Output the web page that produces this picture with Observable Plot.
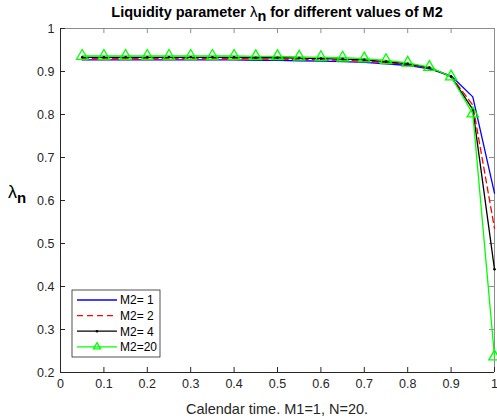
<!DOCTYPE html>
<html>
<head>
<meta charset="utf-8">
<script src="https://cdn.jsdelivr.net/npm/d3@7"></script>
<script src="https://cdn.jsdelivr.net/npm/@observablehq/plot@0.6"></script>
<style>
  html, body { margin: 0; padding: 0; background: #fff; overflow: hidden; }
  #chart { width: 497px; height: 418px; }
</style>
</head>
<body>
<div id="chart"></div>
<script>
// Calendar time grid (N = 20 steps)
const time = [0.05, 0.10, 0.15, 0.20, 0.25, 0.30, 0.35, 0.40, 0.45, 0.50,
              0.55, 0.60, 0.65, 0.70, 0.75, 0.80, 0.85, 0.90, 0.95, 1.00];

// Liquidity parameter lambda_n for each M2
const lambdaM2_1  = [0.927, 0.927, 0.927, 0.927, 0.927, 0.927, 0.927, 0.927, 0.926, 0.926,
                     0.925, 0.924, 0.923, 0.921, 0.918, 0.914, 0.906, 0.890, 0.841, 0.617];
const lambdaM2_2  = [0.930, 0.930, 0.930, 0.930, 0.930, 0.930, 0.930, 0.930, 0.929, 0.929,
                     0.928, 0.927, 0.926, 0.924, 0.921, 0.916, 0.908, 0.889, 0.822, 0.535];
const lambdaM2_4  = [0.933, 0.933, 0.933, 0.933, 0.933, 0.933, 0.933, 0.933, 0.932, 0.932,
                     0.931, 0.930, 0.929, 0.927, 0.923, 0.918, 0.909, 0.888, 0.812, 0.440];
const lambdaM2_20 = [0.936, 0.936, 0.936, 0.936, 0.936, 0.936, 0.936, 0.936, 0.935, 0.935,
                     0.934, 0.933, 0.932, 0.930, 0.926, 0.920, 0.910, 0.888, 0.802, 0.237];

const seriesNames = ["M2= 1", "M2= 2", "M2= 4", "M2=20"];

const xTicks = [0, 0.1, 0.2, 0.3, 0.4, 0.5, 0.6, 0.7, 0.8, 0.9, 1];
const xTickLabels = ["0", "0.1", "0.2", "0.3", "0.4", "0.5", "0.6", "0.7", "0.8", "0.9", "1"];
const yTicks = [0.2, 0.3, 0.4, 0.5, 0.6, 0.7, 0.8, 0.9, 1];
const yTickLabels = ["0.2", "0.3", "0.4", "0.5", "0.6", "0.7", "0.8", "0.9", "1"];

const titleText = ["Liquidity parameter ", "\u03bb", "n", " for different values of M2"];
const xLabel = "Calendar time. M1=1, N=20.";

// Line styles per series
const styles = [
  {name: seriesNames[0], values: lambdaM2_1,  color: "#0000ff", dash: null},
  {name: seriesNames[1], values: lambdaM2_2,  color: "#ff0000", dash: "6,4"},
  {name: seriesNames[2], values: lambdaM2_4,  color: "#000000", dash: null},
  {name: seriesNames[3], values: lambdaM2_20, color: "#00ff00", dash: null}
];
const rows = s => time.map((t, i) => ({t, v: s.values[i]}));

const W = 497, H = 418;
const mL = 60, mR = 3, mT = 28, mB = 46;
const plotW = W - mL - mR, plotH = H - mT - mB;
const tickLen = 5;
const axisDark = "#262626", axisLight = "#8c8c8c";

const marks = [];
// Box: top/right lighter, left/bottom darker
marks.push(Plot.ruleY([1], {stroke: axisLight, strokeWidth: 1}));
marks.push(Plot.ruleX([1], {stroke: axisLight, strokeWidth: 1}));
// Inward tick marks on all four sides
marks.push(Plot.tickX(xTicks, {x: d => d, stroke: axisDark, insetTop: plotH - tickLen}));
marks.push(Plot.tickX(xTicks, {x: d => d, stroke: axisLight, insetBottom: plotH - tickLen}));
marks.push(Plot.tickY(yTicks, {y: d => d, stroke: axisDark, insetRight: plotW - tickLen}));
marks.push(Plot.tickY(yTicks, {y: d => d, stroke: axisLight, insetLeft: plotW - tickLen}));
// Data lines
for (const s of styles) {
  marks.push(Plot.line(rows(s), {x: "t", y: "v", stroke: s.color, strokeWidth: 1.3,
    strokeDasharray: s.dash, strokeLinejoin: "miter"}));
}
// Markers: small dots for M2=4, open triangles for M2=20
marks.push(Plot.dot(rows(styles[2]), {x: "t", y: "v", r: 1.3, fill: "#000000"}));
marks.push(Plot.dot(rows(styles[3]), {x: "t", y: "v", symbol: "triangle", r: 4.2,
  stroke: "#00ff00", strokeWidth: 1.3, fill: "none"}));
marks.push(Plot.ruleY([0.2], {stroke: axisDark, strokeWidth: 1}));
marks.push(Plot.ruleX([0], {stroke: axisDark, strokeWidth: 1}));
marks.push(Plot.axisX(xTicks, {tickSize: 0, tickPadding: 7, tickFormat: (d, i) => xTickLabels[i], label: null, fill: axisDark}));
marks.push(Plot.axisY(yTicks, {tickSize: 0, tickPadding: 6, tickFormat: (d, i) => yTickLabels[i], label: null, fill: axisDark}));

const chart = Plot.plot({
  width: W, height: H,
  marginLeft: mL, marginRight: mR, marginTop: mT, marginBottom: mB,
  x: {domain: [0, 1]},
  y: {domain: [0.2, 1]},
  style: {fontFamily: "'Liberation Sans', Arial, Helvetica, sans-serif", fontSize: "12.5px", color: axisDark, background: "#fff"},
  marks
});
document.getElementById("chart").appendChild(chart);

// Title, axis label and legend added on top of the plot SVG
const svg = d3.select(chart);
const font = "'Liberation Sans', Arial, Helvetica, sans-serif";

const title = svg.append("text")
  .attr("x", mL + plotW / 2).attr("y", 17)
  .attr("text-anchor", "middle")
  .attr("font-family", font).attr("font-size", 14.5).attr("font-weight", "bold")
  .attr("fill", "#000");
title.append("tspan").text(titleText[0]);
title.append("tspan").attr("font-weight", "normal").attr("font-size", 15).text(titleText[1]);
title.append("tspan").attr("dy", 4).text(titleText[2]);
title.append("tspan").attr("dy", -4).text(titleText[3]);

svg.append("text")
  .attr("x", mL + plotW / 2).attr("y", H - 4)
  .attr("text-anchor", "middle")
  .attr("font-family", font).attr("font-size", 14.5).attr("fill", axisDark)
  .text(xLabel);

const yl = svg.append("text")
  .attr("x", 8).attr("y", 198)
  .attr("text-anchor", "start")
  .attr("font-family", font).attr("fill", "#000");
yl.append("tspan").attr("font-size", 18).text(titleText[1]);
yl.append("tspan").attr("font-size", 15).attr("font-weight", "bold").attr("dy", 5).text(titleText[2]);

// Legend box in the lower-left corner
const lg = {x: 72, y: 290, w: 88, h: 67, row: 15.6};
const legend = svg.append("g");
legend.append("rect")
  .attr("x", lg.x).attr("y", lg.y).attr("width", lg.w).attr("height", lg.h)
  .attr("fill", "#fff").attr("stroke", axisDark).attr("stroke-width", 0.8);
styles.forEach((s, i) => {
  const cy = lg.y + 10 + i * lg.row;
  legend.append("line")
    .attr("x1", lg.x + 5).attr("x2", lg.x + 45).attr("y1", cy).attr("y2", cy)
    .attr("stroke", s.color).attr("stroke-width", 1.3)
    .attr("stroke-dasharray", s.dash);
  if (i === 2) {
    legend.append("circle").attr("cx", lg.x + 25).attr("cy", cy).attr("r", 1.3).attr("fill", "#000");
  }
  if (i === 3) {
    legend.append("path")
      .attr("transform", `translate(${lg.x + 25},${cy})`)
      .attr("d", d3.symbol(d3.symbolTriangle2, Math.pow(4.2 * 1.6, 2) * 0.8)())
      .attr("fill", "none").attr("stroke", s.color).attr("stroke-width", 1.3);
  }
  legend.append("text")
    .attr("x", lg.x + 48).attr("y", cy + 4.3)
    .attr("text-anchor", "start")
    .attr("font-family", font).attr("font-size", 12).attr("fill", "#000")
    .text(s.name);
});
</script>
</body>
</html>
